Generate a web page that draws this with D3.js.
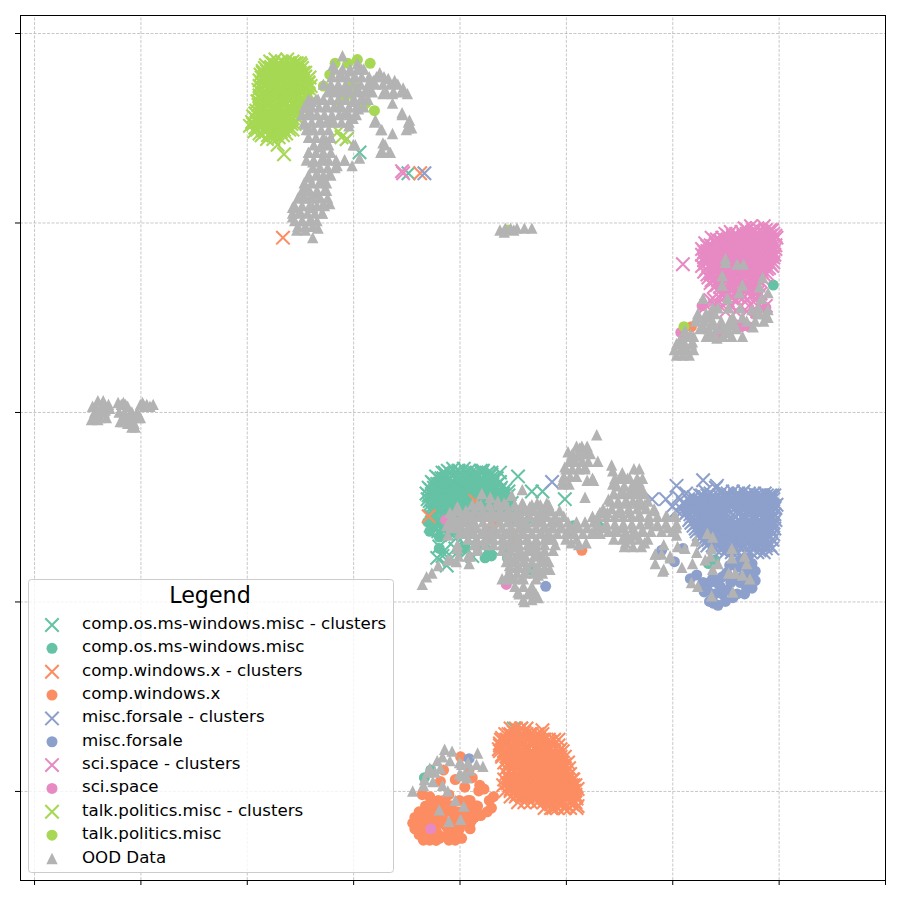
<!DOCTYPE html>
<html>
<head>
<meta charset="utf-8">
<script src="https://cdn.jsdelivr.net/npm/d3@7"></script>
<style>
body { margin: 0; background: #fff; }
text { font-family: "DejaVu Sans"; }
</style>
</head>
<body>
<script>
//Values, the axes have no labels so units are just grid steps of 100
const xTicks = [0, 100, 200, 300, 400, 500, 600, 700, 800];
const yTicks = [0, 100, 200, 300, 400];

//[x, y] pairs, the *Rows arrays are [y, x, x, x...] to keep the dense blobs shorter
const windowsMiscClusters = [
[306,337],[352,326],[422,169],[430,168],[438,168],[455,166],[468,158],[478,158],[499,154],
[384,168],[389,169],[394,170],[399,169],[404,170],[409,169],[414,168],[420,169],[425,167],[430,167],
[378,166],[383,165],[388,166],[393,167],[398,166],[403,167],[408,166],[413,165],[418,166],[423,164],[428,164],[433,165],[438,163],
[374,163],[379,162],[384,163],[389,164],[394,163],[399,164],[404,163],[409,162],[414,163],[419,162],[424,161],[429,162],[434,161],[439,160],
[371,160],[376,160],[381,159],[386,160],[391,161],[396,160],[401,161],[406,159],[411,160],[416,159],[421,159],[426,158],[431,159],[436,158],[441,157],[446,158],
[369,157],[374,156],[379,157],[384,157],[389,158],[394,157],[399,158],[404,157],[409,156],[414,157],[419,156],[424,155],[429,156],[434,155],[439,155],[444,154],[449,152],
[370,154],[375,153],[380,154],[385,154],[390,155],[395,154],[400,155],[405,154],[410,153],[415,154],[420,153],[425,152],[430,153],[435,152],[440,152],[445,150],
[372,151],[377,151],[382,151],[387,152],[392,152],[397,151],[402,152],[407,151],[412,150],[417,151],[422,150],[427,149],[432,150],[437,149],[442,148],
[374,148],[379,148],[384,149],[389,148],[394,149],[399,148],[404,149],[409,148],[414,147],[419,148],[424,147],[429,146],[434,147],[452,148],[456,146],[460,143],
[373,145],[378,145],[383,146],[388,145],[393,146],[398,145],[403,146],[408,144],[440,144],[447,143],[463,140],
[376,142],[381,142],[386,143],[391,142],[396,142],[401,143],[406,141],[373,140],[378,139],[384,139],[389,140],[395,139],[400,139],
[388,136],[393,135],[398,134],[405,135],[415,133],[420,130],[430,128],[425,134],
[381,129],[384,124],[379,123],[386,127],[391,122],[396,128],[388,119],[408,127],[412,124],
[451,33],[458,33]
];
const windowsMiscClusterRows = [
[168,386,391,396,401,406,411,416,421,427],
[165,380,385,390,395,400,405,410,415,420,425,430,435],
[162,376,381,386,391,396,401,406,411,416,421,426,431,436],
[159,373,378,383,388,393,398,403,408,413,418,423,428,433,438,443],
[156,371,376,381,386,391,396,401,406,411,416,421,426,431,436,441,446],
[153,372,377,382,387,392,397,402,407,412,417,422,427,432,437,442],
[150,374,379,384,389,394,399,404,409,414,419,424,429,434,439],
[147,375,380,385,390,395,400,405,410,415,420,425],
[144,375,380,385,390,395,400,405],
[141,378,383,388,393,398],
[137,380,385,390,395]
];
const windowsMiscPoints = [
[370,142],[372,137],[381,134],[381,128],[391,137],[399,127],[417,129],[424,123],[426,124],[428,126],[444,127],[445,123],[469,116],[530,140],
[532,139],[445,126],[505,137],[507,140],[634,120],[367,7],[373,11],[695,267],[405,128],[430,124],[640,122]
];

const windowsXClusters = [
[234,292],[363,326],[371,145],[415,153],[478,32],[493,27],
[446,30],[451,31],[456,32],[461,31],[466,30],[471,29],[476,29],
[440,28],[445,27],[450,29],[455,28],[460,29],[465,27],[470,28],[475,26],[480,27],[485,26],
[438,25],[443,25],[448,24],[453,25],[458,26],[463,24],[468,25],[473,24],[478,24],[483,23],[488,24],[495,22],
[437,22],[442,21],[447,22],[452,22],[457,21],[462,22],[467,21],[472,22],[477,21],[482,20],[487,21],[492,19],
[440,19],[445,19],[450,19],[455,18],[460,19],[465,19],[470,18],[475,19],[480,18],[485,18],[490,18],[495,16],
[444,16],[449,15],[454,16],[459,16],[464,15],[469,16],[474,16],[479,15],[484,15],[489,15],[494,14],[499,14],
[446,13],[451,13],[456,12],[461,13],[466,13],[471,12],[476,13],[481,13],[486,12],[491,12],[496,11],[501,11],
[447,10],[452,10],[457,10],[462,9],[467,10],[472,10],[477,9],[482,10],[487,9],[492,9],[497,9],[502,8],
[446,7],[451,7],[456,7],[461,6],[466,7],[471,7],[476,6],[481,7],[486,6],[491,7],[496,6],[501,6],[506,6],
[445,4],[450,4],[455,3],[460,4],[465,4],[470,3],[475,4],[480,4],[485,3],[490,4],[495,3],[500,4],[505,3],[509,3],
[448,1],[453,1],[458,0],[463,1],[468,1],[473,0],[478,1],[483,1],[488,0],[493,1],[498,1],[503,0],[508,0],[511,1],
[454,-2],[459,-2],[464,-2],[469,-1],[474,-2],[479,-2],[484,-1],[489,-2],[494,-2],[499,-1],[504,-2],[509,-2],
[470,-4],[475,-5],[480,-4],[485,-5],[490,-4],[495,-5],[500,-4],[505,-5],[510,-4],
[486,-7],[491,-8],[496,-7],[501,-8],[506,-7],[511,-8],[488,-9],[499,-9]
];
const windowsXClusterRows = [
[33,448,453,458,463],
[30,443,448,453,458,463,468,473,478],
[27,439,444,449,454,459,464,469,474,479,484,489],
[24,438,443,448,453,458,463,468,473,478,483,488,493],
[21,438,443,448,453,458,463,468,473,478,483,488,493,497],
[18,440,445,450,455,460,465,470,475,480,485,490,495,499],
[15,442,447,452,457,462,467,472,477,482,487,492,497,502],
[12,444,449,454,459,464,469,474,479,484,489,494,499,503],
[9,444,449,454,459,464,469,474,479,484,489,494,499,504],
[6,442,447,452,457,462,467,472,477,482,487,492,497,502,507],
[3,441,447,452,457,462,467,472,477,482,487,492,497,502,507],
[0,443,448,453,458,463,468,473,478,483,488,493,498,503,508],
[-3,448,453,459,464,469,474,479,484,489,494,499,504,509],
[-6,455,461,467,473,479,485,491,497,503,509],
[-9,480,486,492,498,504,510]
];
const windowsXPoints = [
[618,245],[431,140],[450,136],[451,132],[515,127],
[373,-17],[378,-21],[381,-25],[376,-15],[385,-10],[392,-8],[395,-13],[400,-5],[405,-10],[388,-19],[395,-16],[412,-15],[420,-13],[426,-11],[430,-9],
[410,-20],[402,-25],[394,-22],[378,-26],[386,-24],[378,-12],[390,-2],[382,5],[385,11],[396,6],[405,2],[419,3],[418,0],[423,1],[401,18],[409,11],[412,7],[408,-5],[394,-12],
[399,-15],[417,-8],[405,-15],[385,-5],[368,-18],[370,-20],[428,-5],[432,-3],[365,-2],[372,-3]
];
const windowsXPointRows = [
[-5,374,380,386,410],
[-8,368,374,380,386,392,410,416],
[-11,362,368,374,380,386,398,404,410,416],
[-14,358,364,370,376,384,398,406,414],
[-17,356,362,368,378,384,392,402,410],
[-20,358,364,370,376,394,400],
[-23,362,368,374,380],
[-26,366,372,378,390,396]
];

const forsaleClusters = [
[367,326],[294,344],[487,163],[581,154],[594,154],[604,161],[629,164],[642,161],[613,157],
[626,156],[631,158],[636,157],[641,160],[647,158],[652,157],[657,158],[662,157],[667,158],[672,157],[677,157],[682,156],[687,157],[692,156],[696,156],
[615,154],[620,155],[625,153],[630,155],[635,154],[640,155],[645,153],[650,155],[655,154],[660,155],[665,154],[670,155],[675,154],[680,154],[685,155],[690,154],[695,154],
[612,151],[618,152],[623,150],[628,152],[633,151],[638,152],[643,150],[648,152],[653,151],[659,152],[664,151],[669,151],[674,152],[679,151],[684,151],[689,152],[694,151],[698,151],
[610,148],[616,149],[621,148],[626,149],[631,148],[636,149],[641,148],[646,148],[651,149],[661,148],[666,149],[671,148],[676,149],[681,148],[686,149],[691,148],[696,149],
[612,146],[617,146],[623,146],[628,146],[634,145],[639,146],[644,146],[649,145],[662,146],[667,145],[672,146],[677,145],[682,146],[687,145],[692,146],[696,146],
[616,143],[621,143],[627,143],[632,143],[637,142],[642,143],[647,142],[652,142],[657,143],[663,143],[668,143],[673,142],[678,143],[683,142],[688,143],[693,143],[697,143],
[620,140],[625,140],[630,140],[635,140],[640,140],[645,139],[650,140],[655,140],[660,140],[665,139],[670,140],[675,140],[680,139],[685,140],[690,140],[695,140],
[623,137],[628,137],[633,137],[638,137],[643,136],[648,137],[653,137],[658,136],[663,137],[668,137],[673,136],[678,137],[683,137],[688,136],[693,137],
[627,134],[632,134],[637,134],[642,134],[647,133],[652,134],[657,134],[662,133],[667,134],[672,134],[677,133],[682,134],[687,133],[692,134],
[630,131],[635,131],[640,131],[645,130],[650,131],[655,131],[660,130],[665,131],[670,131],[675,130],[680,131],[685,131],[690,130],[694,128],
[640,128],[646,127],[652,128],[658,127],[664,128],[670,127],[676,128],[682,127],[688,128],
[606,155],[610,152],[600,150],[604,148]
];
const forsaleClusterRows = [
[156,628,633,638,644,649,654,659,664,669,674,679,684,689,694],
[153,617,622,627,632,637,642,647,652,657,662,667,672,677,682,687,692],
[150,615,620,625,630,635,640,645,650,655,660,666,671,676,681,686,691,696],
[147,614,619,624,629,634,639,644,664,669,674,679,684,689,694],
[144.5,618,625,630,636,641,646,651,665,670,675,680,685,690,695],
[141.5,618,623,629,634,639,644,649,654,660,665,670,675,680,685,690,695],
[138.5,622,627,632,637,642,647,652,657,662,667,672,677,682,687,692,696],
[135.5,625,630,635,640,645,650,655,660,665,670,675,680,685,690,695],
[132.5,629,634,639,644,649,654,659,664,669,674,679,684,689,694],
[129.5,633,638,643,648,653,658,663,668,673,678,683,688,692],
[126,650,656,662,668,674,680,686]
];
const forsalePoints = [
[409,17],[481,108],[590,127],[602,121],[610,128],[617,112],[623,114],[629,110],[633,106],[637,101],[639,99],[642,110],[647,104],[652,106],[661,104],[670,107],[678,111],[678,116],[670,123],[661,118],[651,115],[647,113],[673,115],[664,110],
[635,110],[640,104],[655,110],[666,113],[658,112],[645,108],[630,105],[635,100],[672,112],[657,102],[650,100],[643,98],[668,104],[675,107],[660,120],[669,118],[675,120],[638,112],[654,119],[664,122]
];

const scienceClusters = [
[347,326],[346,327],[610,278],
[668,297],[674,298],[680,297],[686,298],[692,296],
[650,294],[655,295],[660,294],[665,295],[670,294],[675,295],[680,294],[685,295],[690,294],[695,294],
[637,292],[642,291],[647,292],[652,291],[657,292],[662,291],[667,292],[672,291],[677,292],[682,291],[687,292],[692,291],[698,292],
[631,289],[636,288],[641,289],[646,288],[651,289],[656,288],[661,289],[666,288],[671,289],[676,288],[681,289],[686,288],[691,289],[697,288],
[628,286],[633,285],[638,286],[643,285],[648,286],[653,285],[658,286],[663,285],[668,286],[673,285],[678,286],[683,285],[688,286],[693,285],[697,286],
[628,283],[633,282],[638,283],[643,282],[648,283],[653,282],[658,283],[663,282],[668,283],[673,282],[678,283],[683,282],[688,283],[693,282],[696,283],
[630,280],[635,280],[640,279],[645,280],[650,280],[655,279],[660,280],[665,280],[670,279],[675,280],[680,280],[685,279],[690,280],[695,279],
[628,277],[634,277],[640,276],[646,277],[651,276],[656,277],[661,276],[666,277],[671,276],[676,277],[681,276],[686,277],[691,276],[694,277],
[630,274],[636,273],[642,274],[648,273],[654,274],[659,273],[664,274],[669,273],[674,274],[679,273],[684,274],[689,273],
[634,271],[640,270],[646,271],[652,270],[658,271],[664,270],[669,271],[674,270],[680,270],[684,271],
[636,268],[642,267],[648,268],[654,267],[660,268],[666,267],[671,268],[676,267],[681,267],
[645,264],[651,264],[657,265],[663,264],[669,264],[675,265],[650,261],[656,260],[662,261],[668,261],[675,262],[680,263],[645,260]
];
const scienceClusterRows = [
[296,670,676,682,688,694],
[293,652,657,662,667,672,677,682,687,692,697],
[290.5,640,645,650,655,660,665,670,675,680,685,690,695],
[287.5,633,638,643,648,653,658,663,668,673,678,683,688,693],
[284.5,630,635,640,645,650,655,660,665,670,675,680,685,690,695],
[281.5,630,635,640,645,650,655,660,665,670,675,680,685,690,695],
[278.5,631,637,642,647,652,657,662,667,672,677,682,687,692],
[275.5,632,637,643,649,654,659,664,669,674,679,684,689],
[272.5,633,639,645,651,656,661,666,671,676,681,686],
[269.5,637,643,649,655,661,666,672,677,682],
[266,639,645,651,657,663,669,674,679],
[262.5,647,653,659,665,671,677,683],
[259,636,640,652,660,670,678,686],
[256,632,640,648,656,664,672,680,688],
[253,650,660,670,680]
];
const sciencePoints = [
[387,143],[373,-20],[444,109],[628,256],[643,241],[665,245],[660,246],[672,245],[645,243],[635,250],[688,255],[608,242]
];

const politicsClusters = [
[235,336],[286,348],[289,345],[294,344],
[222,385],[227,386],[233,385],[238,386],[243,385],[247,384],
[218,383],[223,382],[228,383],[232,382],[238,383],[242,382],[247,382],[251,383],
[215,380],[219,380],[224,379],[229,380],[234,380],[239,379],[244,380],[248,380],[253,379],
[213,378],[217,377],[222,378],[227,377],[231,378],[236,377],[241,378],[246,377],[250,378],[255,377],
[212,375],[216,375],[221,374],[226,375],[230,375],[235,374],[240,375],[244,375],[249,374],[253,375],[258,374],
[212,372],[217,372],[222,372],[226,371],[231,372],[236,372],[241,371],[245,372],[250,372],[255,371],[260,372],
[211,370],[216,369],[220,370],[225,369],[230,369],[235,370],[240,369],[244,369],[249,370],[254,369],[258,368],
[212,367],[217,367],[222,366],[227,367],[232,367],[237,366],[242,367],[247,367],[252,366],[257,366],
[210,364],[215,364],[220,365],[225,364],[230,364],[235,364],[240,364],[245,363],[250,364],[255,364],
[211,362],[216,361],[221,362],[226,361],[231,361],[236,362],[241,361],[246,361],[251,362],
[209,359],[214,359],[219,358],[224,359],[229,359],[234,358],[239,359],[244,359],[249,358],
[206,356],[211,356],[216,356],[221,355],[226,356],[231,356],[236,355],[241,356],[246,356],
[205,353],[210,353],[215,354],[220,353],[225,353],[230,354],[235,353],[240,353],[245,352],
[203,351],[208,350],[213,351],[218,350],[223,351],[228,350],[233,351],[238,350],[243,349],
[207,348],[212,347],[217,348],[222,347],[227,347],[232,348],[237,347],[219,344],[225,344],[230,345],[229,341]
];
const politicsClusterRows = [
[384,225,230,235,240,245,250],
[381.5,217,222,227,232,237,242,247,252],
[379,215,220,225,230,235,240,245,250,255],
[376.5,214,219,224,229,234,239,244,249,254,259],
[373.5,214,219,224,229,234,238,243,248,253,258],
[371,214,219,224,229,233,238,243,248,253,258],
[368.5,214,218,223,228,233,238,242,247,252,257],
[365.5,213,218,223,228,233,238,243,248,253],
[363,213,218,223,228,233,238,243,248,253],
[360,212,217,222,227,232,237,242,247,252],
[357.5,208,213,218,223,228,233,238,243,248],
[355,208,213,218,223,228,233,238,243,248],
[352,206,211,217,222,227,232,237,242],
[349,210,215,220,225,230,235,240],
[346,214,220,225,234]
];
const politicsPoints = [
[283,384],[316,384],[304,386],[295,384],[272,372],[278,378],[309,361],[320,359],[288,368],[297,368],[292,366],[300,373],[312,363],[285,362],[445,296],[611,245]
];

const oodPoints = [
//top group
[290,388],[281,383],[288,379],[304,384],[297,380],[308,381],[302,377],[278,371],[285,371],[294,371],[304,371],[313,371],[319,375],[325,379],[333,376],[339,375],[347,371],[351,368],[337,368],[328,368],[337,363],[346,358],[353,354],[355,350],[352,350],
[261,364],[267,365],[259,359],[275,362],[288,362],[302,364],[309,366],[305,360],[255,352],[259,349],[269,354],[278,354],[292,358],[300,355],[296,351],[321,354],[327,349],[337,347],[328,342],[327,338],[335,337],[302,341],[292,333],[299,330],[306,334],
[275,343],[269,340],[258,337],[262,332],[272,334],[285,330],[278,326],[266,326],[259,324],[255,319],[272,322],[275,317],[252,313],[259,313],[267,315],[278,310],[243,308],[250,306],[262,308],[271,305],[243,303],[252,301],[261,301],[267,297],[255,296],[262,292],[247,296],[272,310],
//small middle group
[438,296],[443,297],[448,297],[454,297],[461,297],[468,297],[442,295],[451,296],
//left group
[55,203],[60,206],[65,206],[70,204],[57,200],[54,196],[62,200],[60,196],[67,201],[71,202],[79,205],[84,205],[88,203],[81,195],[86,197],[90,199],[93,195],[95,192],[98,199],[102,205],[109,203],[104,203],[100,197],[84,195],[92,192],[112,204],
//middle mass
[365,109],[369,113],[374,115],[380,119],[389,122],[397,121],[398,130],[399,124],[392,122],[398,128],[398,150],[399,149],[391,147],[388,140],[396,140],[407,147],[417,151],[421,157],[429,155],[436,153],[442,152],[449,156],[459,159],[459,152],[466,150],[473,152],[482,148],[482,152],[482,150],
[402,143],[410,143],[412,145],[424,145],[430,146],[438,145],[446,143],[455,144],[460,142],[472,143],[480,140],[490,142],[396,143],[403,138],[412,138],[423,136],[431,138],[442,136],[450,137],[459,137],[468,136],[477,136],[487,139],[495,139],[503,138],[510,140],
[403,136],[417,132],[417,128],[408,124],[409,120],[389,135],[431,134],[443,131],[452,135],[452,129],[463,133],[472,132],[482,135],[445,125],[452,123],[459,125],[467,128],[475,125],[482,122],[485,117],[447,119],[454,118],[463,119],[474,118],[440,112],[449,113],[459,113],[474,114],
[455,105],[461,100],[468,105],[474,102],[529,188],[513,181],[520,180],[502,179],[507,177],[513,177],[518,171],[499,171],[504,174],[497,164],[520,164],[518,155],[460,150],[475,147],[485,133],[505,131],[512,130],[519,131],
//right part
[527,137],[530,174],[525,165],[543,172],[544,169],[564,170],[569,170],[553,168],[526,164],[544,162],[551,165],[558,165],[569,163],[564,161],[545,157],[540,154],[553,159],[562,158],[570,158],[549,152],[558,152],[567,152],[574,151],[582,148],
[532,147],[539,147],[525,145],[551,147],[560,147],[569,146],[578,143],[586,140],[595,145],[603,145],[596,139],[604,139],[546,138],[553,139],[563,139],[572,138],[532,136],[556,135],[556,131],[565,135],[574,131],[592,130],[604,135],[584,125],[584,120],[592,117],[598,124],
[618,110],[624,108],[637,103],[657,105],[653,115],[643,120],[638,117],[668,124],[670,120],[659,115],[666,114],[673,112],[656,128],[656,123],[636,124],[637,128],[631,122],[633,136],[638,134],[622,132],[623,126],[619,120],[612,128],[605,129],[609,118],[598,123],[591,116],
//under the orange group
[356,0],[367,6],[375,5],[372,12],[379,16],[386,22],[393,21],[384,18],[391,16],[402,14],[405,9],[407,7],[400,9],[417,20],[416,14],[422,13],[384,3],[389,0],[396,-5],[404,-8],[381,-10],[390,-16],[401,-15],[366,3],[402,8],[410,11],[400,15],[408,15],[382,12],[377,10],[370,10]
];
const oodPointRows = [
//top group
[381,283,290,297,304,310],
[377,280,287,294,301,308,315,322,329],
[373,272,279,286,293,300,307,314,321,328,335,342],
[369,276,283,290,297,304,311,318,331,338,345],
[365,258,265,272,279,286,293,300,307,314],
[361,254,261,268,275,282,289,296,303,310],
[357,252,259,266,273,280,287,296,303,346],
[353,254,261,268,275,282,289,296,320,352],
[349,256,263,270,277,326,350],
[345,258,265,272,279],
[341,263,270,277,300,330],
[337,258,265,272,279,326,334],
[333,256,263,270,277,284,292],
[329,262,269,276,283],
[325,258,265,272,279],
[321,254,261,268,275],
[317,252,259,266,273],
[313,248,255,262,269,276],
[309,245,252,259,266,273],
[305,243,250,257,264,271],
[301,245,252,259,266],
[298,248,255,262],
//left group
[203,58,64,70],[200,58,66,80,85,92,97],[197,56,62,68,84,92,98],[204,82,86,100,106],[194,88,94],
//middle mass
[151,412,420,428,436,444,452,460,468,476,484],
[148,398,406,414,422,430,438,446,454,462,470,478,486,494],
[145,394,402,410,418,426,434,442,450,458,466,474,482,490,498],
[142,390,398,406,414,422,430,438,446,454,462,470,478,486,494,502,510,518,526],
[139,392,400,408,416,424,432,440,448,456,464,472,480,488,496,504,512,520,528,536],
[136,400,412,420,428,436,444,452,460,468,476,484,492,500,508,516,524,532],
[133,408,416,424,432,440,448,456,464,472,480,488,500,510],
[130,414,424,432,440,448,456,464,472,480,490],
[127,416,440,448,456,464,472,480,488],
[124,410,446,454,462,470,478],
[121,444,452,460,468,476,484],
[118,448,456,464,472,480],
[115,446,454,462,470,478],
[112,444,452,460,472],
[108,452,460,468],
[104,456,464,472],
[101,460,468],
//spike
[182,510,515,520],[178,506,512,518,523],[174,503,509,515,521],[170,500,506,512,518],[166,498,504,510],[162,497,503],
//right mass
[165,546,553,560,567,572],
[161,548,555,562,570],
[157,545,552,559,566,574],
[153,542,549,556,563,570,577],
[149,535,543,551,559,567,575,583],
[145,530,538,546,554,562,570,578,586,594,602],
[141,530,538,546,554,562,570,578,586,594,604],
[137,530,540,548,556,564,572,580,590,600],
[133,545,553,561,569,577],
[129,555,563,571],
[125,584,590],
//under the sci.space group
[252,624,632,640,680,688],
[248,622,630,638,646,654,670,678,686],
[244,626,634,642,652,660],
[240,612,618,632,640,648,656],
[236,606,612,618],
[233,602,608,614,620],
[230,604,610,616]
];

//sci space group of grey triangles, kept apart because it is a lot of them
const oodPointsUpper = [
[650,281],[650,279],[661,278],[667,278],[647,272],[647,267],[663,263],[666,267],[682,266],[685,271],[684,260],[690,263],[629,260],[652,260],[643,255],[638,255],[653,255],[664,255],[675,254],[690,254],[681,255],[682,252],[690,250],[666,250],[657,250],[623,250],[631,251],[636,250],[629,245],[637,246],[659,246],[653,246],[648,245],[676,245],[636,241],[642,239],[666,240],[653,242],[617,241],[612,243],[610,237],[604,236],[612,233],[619,237],[607,238],[620,240]
];

function fromRows(rows) {
    return rows.flatMap(r => r.slice(1).map(v => [v, r[0]]));
}

const width = 900;
const height = 900;
const plotLeft = 20, plotRight = 885, plotTop = 15, plotBottom = 880;

let x = d3.scaleLinear().domain([-13.2, 800]).range([plotLeft, plotRight]);
let y = d3.scaleLinear().domain([-47, 409.5]).range([plotBottom, plotTop]);

let svg = d3.select("body")
    .append("svg")
    .attr("width", width)
    .attr("height", height);

//grid below everything
svg.append("g")
    .attr("transform", "translate(0," + plotBottom + ")")
    .call(d3.axisBottom(x).tickValues(xTicks).tickFormat("").tickSize(-(plotBottom - plotTop)))
    .call(g => g.select(".domain").remove())
    .selectAll("line")
    .attr("stroke", "#b0b0b0")
    .attr("stroke-width", 0.7)
    .attr("stroke-dasharray", "3,1.5");

svg.append("g")
    .attr("transform", "translate(" + plotLeft + ",0)")
    .call(d3.axisLeft(y).tickValues(yTicks).tickFormat("").tickSize(-(plotRight - plotLeft)))
    .call(g => g.select(".domain").remove())
    .selectAll("line")
    .attr("stroke", "#b0b0b0")
    .attr("stroke-width", 0.7)
    .attr("stroke-dasharray", "3,1.5");

//matplotlib style triangle, as wide as it is high
const triangleUp = {
    draw: function(context, size) {
        let h = Math.sqrt(size) / 2;
        context.moveTo(0, -h);
        context.lineTo(-h, h);
        context.lineTo(h, h);
        context.closePath();
    }
};

const crossShape = d3.symbol().type(d3.symbolTimes).size(120)();
const circleShape = d3.symbol().type(d3.symbolCircle).size(95)();
const triangleShape = d3.symbol().type(triangleUp).size(130)();

const series = [
    {name: "comp.os.ms-windows.misc - clusters", color: "#66c2a5", kind: "x", data: windowsMiscClusters.concat(fromRows(windowsMiscClusterRows))},
    {name: "comp.os.ms-windows.misc", color: "#66c2a5", kind: "o", data: windowsMiscPoints},
    {name: "comp.windows.x - clusters", color: "#fc8d62", kind: "x", data: windowsXClusters.concat(fromRows(windowsXClusterRows))},
    {name: "comp.windows.x", color: "#fc8d62", kind: "o", data: windowsXPoints.concat(fromRows(windowsXPointRows))},
    {name: "misc.forsale - clusters", color: "#8da0cb", kind: "x", data: forsaleClusters.concat(fromRows(forsaleClusterRows))},
    {name: "misc.forsale", color: "#8da0cb", kind: "o", data: forsalePoints},
    {name: "sci.space - clusters", color: "#e78ac3", kind: "x", data: scienceClusters.concat(fromRows(scienceClusterRows))},
    {name: "sci.space", color: "#e78ac3", kind: "o", data: sciencePoints},
    {name: "talk.politics.misc - clusters", color: "#a6d854", kind: "x", data: politicsClusters.concat(fromRows(politicsClusterRows))},
    {name: "talk.politics.misc", color: "#a6d854", kind: "o", data: politicsPoints},
    {name: "OOD Data", color: "#b3b3b3", kind: "t", data: oodPoints.concat(oodPointsUpper, fromRows(oodPointRows))}
];

function styleMarker(sel, s) {
    if (s.kind === "x") {
        sel.attr("d", crossShape).attr("fill", "none").attr("stroke", s.color).attr("stroke-width", 2.08);
    } else if (s.kind === "o") {
        sel.attr("d", circleShape).attr("fill", s.color);
    } else {
        sel.attr("d", triangleShape).attr("fill", s.color);
    }
}

series.forEach(function(s) {
    svg.append("g")
        .selectAll("path")
        .data(s.data)
        .enter()
        .append("path")
        .attr("transform", d => "translate(" + x(d[0]) + "," + y(d[1]) + ")")
        .call(styleMarker, s);
});

//frame and ticks on top
svg.append("g")
    .attr("transform", "translate(0," + plotBottom + ")")
    .call(d3.axisBottom(x).tickValues(xTicks).tickFormat("").tickSize(5).tickSizeOuter(0));
svg.append("g")
    .attr("transform", "translate(" + plotLeft + ",0)")
    .call(d3.axisLeft(y).tickValues(yTicks).tickFormat("").tickSize(5).tickSizeOuter(0));
svg.append("rect")
    .attr("x", plotLeft + 0.5)
    .attr("y", plotTop + 0.5)
    .attr("width", plotRight - plotLeft)
    .attr("height", plotBottom - plotTop)
    .attr("fill", "none")
    .attr("stroke", "#000")
    .attr("stroke-width", 1);

//legend
let legend = svg.append("g").attr("transform", "translate(28,579)");
legend.append("rect")
    .attr("x", 0.5)
    .attr("y", 0.5)
    .attr("width", 365)
    .attr("height", 293)
    .attr("rx", 3)
    .attr("fill", "#fff")
    .attr("fill-opacity", 0.8)
    .attr("stroke", "#ccc");
legend.append("text")
    .attr("x", 182)
    .attr("y", 24)
    .attr("text-anchor", "middle")
    .style("font-size", "22.2px")
    .text("Legend");

series.forEach(function(s, i) {
    let row = legend.append("g").attr("transform", "translate(0," + (45 + i * 23.35) + ")");
    row.append("path")
        .attr("transform", "translate(24," + 1 + ")")
        .call(styleMarker, s);
    row.append("text")
        .attr("x", 54)
        .attr("y", 5)
        .style("font-size", "16.67px")
        .text(s.name);
});
</script>
</body>
</html>
